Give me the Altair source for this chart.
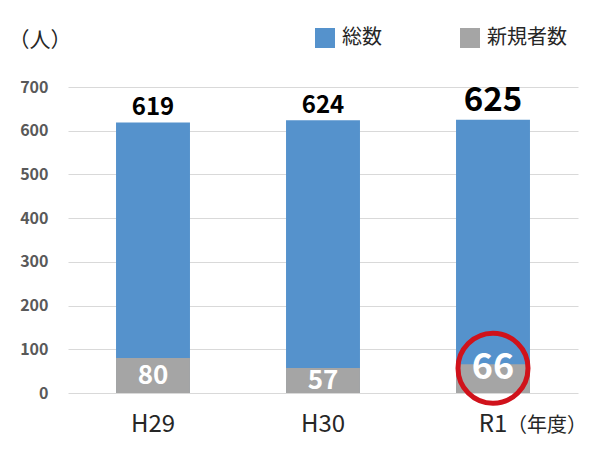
import altair as alt
import pandas as pd

years = ["H29", "H30", "R1"]
totals = [619, 624, 625]
new_counts = [80, 57, 66]
series_names = ["総数", "新規者数"]
y_ticks = [0, 100, 200, 300, 400, 500, 600, 700]

BLUE = "#5592CC"
GRAY = "#A5A5A5"
RED = "#D0121B"
FONT = "Noto Sans CJK JP"

df = pd.DataFrame({"year": years, "総数": totals, "新規者数": new_counts})

base = alt.Chart(df)

x_enc = alt.X(
    "year:N",
    sort=years,
    scale=alt.Scale(paddingInner=0.565, paddingOuter=0.2825),
    axis=alt.Axis(
        title=None, labelAngle=0, ticks=False, domain=False,
        labelFontSize=24, labelColor="#262626", labelFont=FONT,
        labelPadding=19,
    ),
)

y_scale = alt.Scale(domain=[0, 700], nice=False)

bars = base.transform_fold(series_names, as_=["series", "value"]).mark_bar().encode(
    x=x_enc,
    y=alt.Y(
        "value:Q",
        stack=None,
        scale=y_scale,
        axis=alt.Axis(
            values=y_ticks, grid=True, gridColor="#D9D9D9", domain=False, ticks=False,
            labelFontSize=16, labelFontWeight="bold", labelColor="#595959",
            labelFont=FONT, labelPadding=20,
            title="（人）", titleAngle=0, titleAlign="left", titleBaseline="top",
            titleX=-60, titleY=-58, titleFontSize=21, titleFontWeight="normal",
            titleFont=FONT, titleColor="#262626",
        ),
    ),
    color=alt.Color(
        "series:N",
        scale=alt.Scale(domain=series_names, range=[BLUE, GRAY]),
        legend=alt.Legend(
            title=None, orient="none", direction="horizontal",
            legendX=247, legendY=-59, symbolType="square", symbolSize=400,
            symbolStrokeWidth=0, labelFontSize=20, labelFont=FONT,
            labelColor="#262626", labelOffset=7, columnPadding=78,
        ),
    ),
    order=alt.Order("series:N", sort="descending"),
)

total_labels = base.mark_text(
    baseline="bottom", dy=-2, fontWeight="bold", font=FONT, color="#000000"
).encode(
    x=alt.X("year:N", sort=years),
    y=alt.Y("総数:Q", scale=y_scale),
    text=alt.Text("総数:Q"),
    size=alt.condition(alt.datum.year == "R1", alt.value(33), alt.value(24)),
)

new_labels = base.transform_filter(alt.datum.year != "R1").transform_calculate(
    mid="datum['新規者数'] / 2"
).mark_text(
    baseline="middle", fontWeight="bold", font=FONT, color="white", fontSize=26
).encode(
    x=alt.X("year:N", sort=years),
    y=alt.Y("mid:Q", scale=y_scale),
    text=alt.Text("新規者数:Q"),
)

highlight = base.transform_filter(alt.datum.year == "R1").transform_calculate(
    mid="datum['新規者数'] * 0.86"
)

hl_label = highlight.mark_text(
    baseline="middle", fontWeight="bold", font=FONT, color="white", fontSize=36
).encode(
    x=alt.X("year:N", sort=years),
    y=alt.Y("mid:Q", scale=y_scale),
    text=alt.Text("新規者数:Q"),
)

hl_circle = highlight.mark_point(
    shape="circle", filled=False, size=4900, strokeWidth=5, color=RED, opacity=1
).encode(
    x=alt.X("year:N", sort=years),
    y=alt.Y("mid:Q", scale=y_scale),
)

unit_label = highlight.mark_text(
    align="left", baseline="alphabetic", dx=14, dy=39, fontSize=20,
    font=FONT, color="#262626", text="（年度）"
).encode(
    x=alt.X("year:N", sort=years),
    y=alt.Y("datum_zero:Q", scale=y_scale),
).transform_calculate(datum_zero="0")

chart = alt.layer(bars, total_labels, new_labels, hl_label, hl_circle, unit_label).properties(
    width=510,
    height=306,
    autosize=alt.AutoSizeParams(type="none"),
    padding={"left": 60, "top": 79, "right": 10, "bottom": 60},
    background="white",
).configure_view(stroke=None)

chart.save("out.html", embed_options={"renderer": "svg", "actions": False})
